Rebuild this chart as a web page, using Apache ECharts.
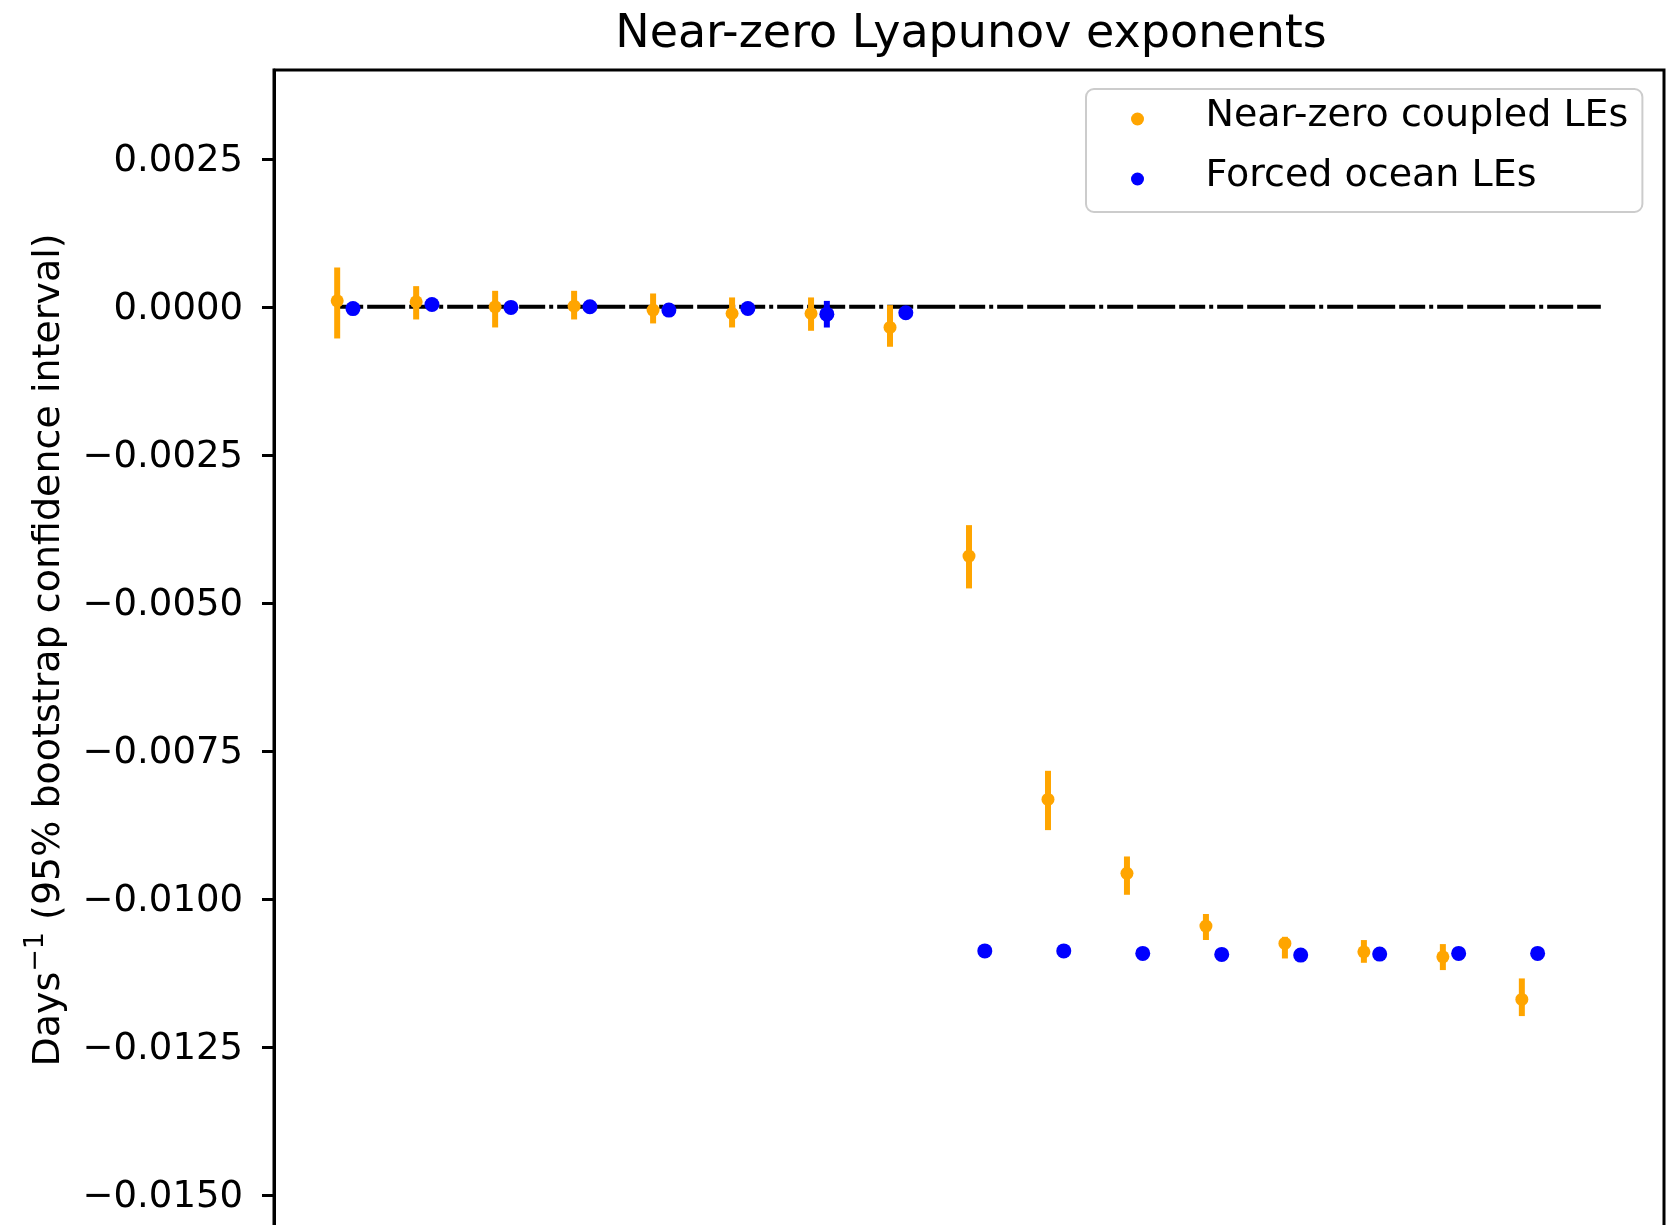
<!DOCTYPE html>
<html>
<head>
<meta charset="utf-8">
<script src="https://cdn.jsdelivr.net/npm/echarts@6/dist/echarts.min.js"></script>
<style>
  html, body { margin: 0; padding: 0; background: #fff; overflow: hidden; }
  #chart { width: 1674px; height: 1300px; }
</style>
</head>
<body>
<div id="chart"></div>
<script>
// ---- data ----
const coupledX = [0, 1, 2, 3, 4, 5, 6, 7, 8, 9, 10, 11, 12, 13, 14, 15];
const coupledMean = [0.000101, 0.000084, 0.000000, 0.000010, -0.000056, -0.000113, -0.000113, -0.000349,
  -0.004211, -0.008321, -0.009570, -0.010460, -0.010754, -0.010895, -0.010980, -0.011700];
const coupledLow = [-0.000535, -0.000214, -0.000349, -0.000214, -0.000281, -0.000349, -0.000405, -0.000675,
  -0.004757, -0.008840, -0.009932, -0.010696, -0.011008, -0.011081, -0.011204, -0.011981];
const coupledHigh = [0.000664, 0.000349, 0.000270, 0.000270, 0.000225, 0.000158, 0.000158, 0.000028,
  -0.003688, -0.007838, -0.009285, -0.010257, -0.010642, -0.010697, -0.010765, -0.011345];

const oceanX = [0.2, 1.2, 2.2, 3.2, 4.2, 5.2, 6.2, 7.2, 8.2, 9.2, 10.2, 11.2, 12.2, 13.2, 14.2, 15.2];
const oceanMean = [-0.000030, 0.000040, -0.000010, 0.000000, -0.000056, -0.000028, -0.000124, -0.000100,
  -0.010880, -0.010880, -0.010922, -0.010939, -0.010951, -0.010934, -0.010922, -0.010922];
const oceanLow = [-0.000080, -0.000010, -0.000060, -0.000050, -0.000106, -0.000078, -0.000350, -0.000150,
  -0.010930, -0.010930, -0.010972, -0.010989, -0.011001, -0.010984, -0.010972, -0.010972];
const oceanHigh = [0.000020, 0.000090, 0.000040, 0.000050, -0.000006, 0.000022, 0.000100, -0.000050,
  -0.010830, -0.010830, -0.010872, -0.010889, -0.010901, -0.010884, -0.010872, -0.010872];

const zeroLineX = [0, 16];
const zeroLineY = [0, 0];

const yTicks = [0.0025, 0, -0.0025, -0.005, -0.0075, -0.01, -0.0125, -0.015];

const seriesNames = ['Near-zero coupled LEs', 'Forced ocean LEs'];
const titleText = 'Near-zero Lyapunov exponents';

// ---- build ----
const FONT = 'DejaVu Sans';
const ORANGE = '#FFA500';
const BLUE = '#0000FF';

function pairs(xs, ys) { return xs.map((x, i) => [x, ys[i]]); }
function triples(xs, lo, hi) { return xs.map((x, i) => [x, lo[i], hi[i]]); }

function errRenderer(color) {
  return function (params, api) {
    const p1 = api.coord([api.value(0), api.value(1)]);
    const p2 = api.coord([api.value(0), api.value(2)]);
    return {
      type: 'line',
      shape: { x1: p1[0], y1: p1[1], x2: p2[0], y2: p2[1] },
      style: { stroke: color, lineWidth: 6 }
    };
  };
}

function fmtTick(v) {
  const s = Math.abs(v).toFixed(4);
  return '{v|' + (v < -1e-12 ? '\u2212' : '') + s + '}';
}

const chart = echarts.init(document.getElementById('chart'), null, { renderer: 'canvas' });
chart.setOption({
  animation: false,
  backgroundColor: '#fff',
  title: {
    text: titleText,
    left: 971,
    top: 12,
    padding: 0,
    textAlign: 'center',
    textStyle: { fontFamily: FONT, fontSize: 46, fontWeight: 'normal', color: '#000' }
  },
  legend: {
    data: seriesNames,
    orient: 'vertical',
    left: 1086,
    top: 89,
    padding: [8, 14, 11, 45],
    itemWidth: 40,
    itemHeight: 13,
    itemGap: 16,
    icon: 'circle',
    borderColor: '#cccccc',
    borderWidth: 2,
    borderRadius: 8,
    backgroundColor: 'rgba(255,255,255,0.8)',
    formatter: name => '{g|}{t|' + name + '}',
    textStyle: {
      fontFamily: FONT, fontSize: 38, color: '#000',
      rich: {
        g: { width: 43 },
        t: { fontFamily: FONT, fontSize: 38, color: '#000', lineHeight: 44, padding: [0, 0, 6, 0] }
      }
    }
  },
  grid: {
    left: 274, right: 10, top: 70, bottom: 46,
    show: true, borderColor: '#000', borderWidth: 3, backgroundColor: 'transparent'
  },
  xAxis: {
    type: 'value', min: -0.8, max: 16.8,
    axisLine: { show: false, onZero: false },
    axisTick: { show: false },
    axisLabel: { show: false },
    splitLine: { show: false }
  },
  yAxis: {
    type: 'value', min: -0.016, max: 0.004,
    axisLine: { show: true, onZero: false, lineStyle: { color: '#000', width: 3 } },
    axisTick: { show: true, length: 12, lineStyle: { color: '#000', width: 3 }, customValues: yTicks },
    axisLabel: {
      customValues: yTicks,
      formatter: fmtTick,
      margin: 31,
      fontFamily: FONT, fontSize: 37, color: '#000',
      rich: {
        v: { fontFamily: FONT, fontSize: 37, color: '#000', lineHeight: 44, padding: [6, 0, 0, 0] }
      }
    },
    splitLine: { show: false }
  },
  graphic: [{
    type: 'text',
    x: 45, y: 650,
    rotation: Math.PI / 2,
    style: {
      text: '{n|Days}{s|\u22121}{n| (95% bootstrap confidence interval)}',
      align: 'center',
      verticalAlign: 'middle',
      fill: '#000',
      rich: {
        n: { fontFamily: FONT, fontSize: 38, lineHeight: 46, verticalAlign: 'bottom', fill: '#000' },
        s: { fontFamily: FONT, fontSize: 27, lineHeight: 27, verticalAlign: 'top', fill: '#000' }
      }
    }
  }],
  series: [
    {
      name: 'zero',
      type: 'line',
      data: pairs(zeroLineX, zeroLineY),
      symbol: 'none',
      silent: true,
      lineStyle: { color: '#000', width: 4, type: [26, 4, 38, 4, 26, 4, 4, 4] },
      z: 1
    },
    {
      name: 'coupledErr',
      type: 'custom',
      data: triples(coupledX, coupledLow, coupledHigh),
      encode: { x: 0, y: [1, 2] },
      renderItem: errRenderer(ORANGE),
      silent: true,
      z: 2
    },
    {
      name: seriesNames[0],
      type: 'scatter',
      data: pairs(coupledX, coupledMean),
      symbol: 'circle',
      symbolSize: 13,
      itemStyle: { color: ORANGE, opacity: 1 },
      z: 3
    },
    {
      name: 'oceanErr',
      type: 'custom',
      data: triples(oceanX, oceanLow, oceanHigh),
      encode: { x: 0, y: [1, 2] },
      renderItem: errRenderer(BLUE),
      silent: true,
      z: 4
    },
    {
      name: seriesNames[1],
      type: 'scatter',
      data: pairs(oceanX, oceanMean),
      symbol: 'circle',
      symbolSize: 15,
      itemStyle: { color: BLUE, opacity: 1 },
      z: 5
    }
  ]
});
</script>
</body>
</html>
